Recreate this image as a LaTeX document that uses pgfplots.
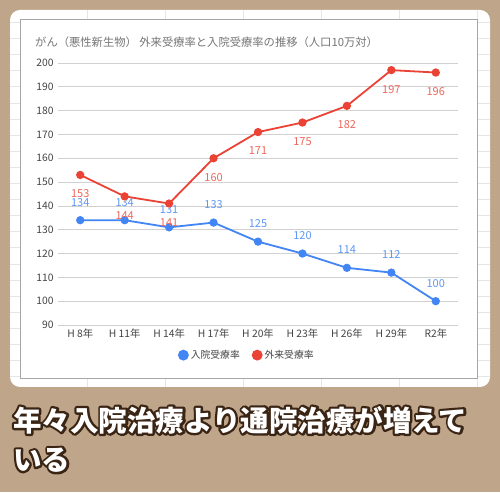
\documentclass[border=0pt]{standalone}
\usepackage{pgfplots}
\pgfplotsset{compat=1.18}
\usepackage{fontspec}
\setmainfont{Noto Sans CJK JP}
\newfontfamily\outlinefont{Noto Sans CJK JP}[BoldFeatures={FakeBold=16}]
\definecolor{bg}{HTML}{BFA58A}
\definecolor{gblue}{HTML}{4285F4}
\definecolor{gred}{HTML}{EA4335}
\definecolor{lblue}{HTML}{5E97F6}
\definecolor{lred}{HTML}{EE675C}
\definecolor{outl}{HTML}{3A2414}
\definecolor{sheet}{HTML}{E6E6E6}
\definecolor{titlegray}{HTML}{757575}
\definecolor{labgray}{HTML}{444444}
\newcommand{\outlined}[2]{%
  \begin{scope}[line join=round, line cap=round, miter limit=1]
  \node[anchor=west, inner sep=0pt, text=outl, font=\fontsize{28.5}{30}\selectfont\outlinefont\bfseries] at (#1) {\special{pdf:literal direct 1 j 1 J}#2};%
  \end{scope}
  \node[anchor=west, inner sep=0pt, text=white, font=\fontsize{28.5}{30}\selectfont\bfseries] at (#1) {#2};}
\begin{document}
\begin{tikzpicture}[x=1pt,y=1pt]
\fill[bg] (0,0) rectangle (500,492);
\useasboundingbox (0,0) rectangle (500,492);
% card
\fill[white, rounded corners=10pt] (10,105) rectangle (490,482);
\begin{scope}
\clip[rounded corners=10pt] (10,105) rectangle (490,482);
\foreach \x in {87,165,243,321,399,477} \draw[sheet, line width=0.8pt] (\x,105) -- (\x,482);
\foreach \k in {0,...,22} \draw[sheet, line width=0.8pt] (10,{492-22.5-16.1*\k}) -- (490,{492-22.5-16.1*\k});
\end{scope}
% chart box
\fill[white] (20,114) rectangle (477,473);
\draw[black!35, line width=0.8pt] (20,114) rectangle (477,473);
% title
\node[anchor=west, inner sep=0pt, text=titlegray, font=\fontsize{11.3}{13}\selectfont] at (35,450) {がん（悪性新生物） 外来受療率と入院受療率の推移（人口10万対）};
\begin{axis}[
  at={(58pt,167pt)}, anchor=south west,
  width=400pt, height=262pt, scale only axis,
  xmin=-0.5, xmax=8.5, ymin=90, ymax=200,
  ytick={90,100,...,200}, xtick={0,...,8},
  xticklabels={H 8年, H 11年, H 14年, H 17年, H 20年, H 23年, H 26年, H 29年, R2年},
  axis line style={draw=none},
  major tick length=0pt,
  ymajorgrids, grid style={black!18, line width=0.8pt},
  tick label style={font=\fontsize{10.3}{12}\selectfont, text=labgray},
  yticklabel style={xshift=-1pt},
  /pgf/number format/assume math mode=true,
  clip=false,
  legend columns=2,
  legend style={at={(0.472,-0.115)}, anchor=center, draw=none, fill=none,
    font=\fontsize{9.8}{12}\selectfont, text=labgray,
    /tikz/every even column/.append style={column sep=10pt}},
  legend image code/.code={\fill[#1] (0pt,0pt) circle (4.5pt);},
]
\addplot[gblue, line width=1.8pt, mark=*, mark size=3.2pt,
  nodes near coords, nodes near coords style={anchor=center, inner sep=0pt, yshift=18pt, text=lblue, font=\fontsize{11}{12}\selectfont}]
  coordinates {(0,134) (1,134) (2,131) (3,133) (4,125) (5,120) (6,114) (7,112) (8,100)};
\addlegendentry{入院受療率}
\addplot[gred, line width=1.8pt, mark=*, mark size=3.2pt,
  nodes near coords, nodes near coords style={anchor=center, inner sep=0pt, yshift=-19pt, text=lred, font=\fontsize{11}{12}\selectfont}]
  coordinates {(0,153) (1,144) (2,141) (3,160) (4,171) (5,175) (6,182) (7,197) (8,196)};
\addlegendentry{外来受療率}
\end{axis}
% caption text
\outlined{13,72}{年々入院治療より通院治療が増えて}
\outlined{13,32}{いる}
\end{tikzpicture}
\end{document}
